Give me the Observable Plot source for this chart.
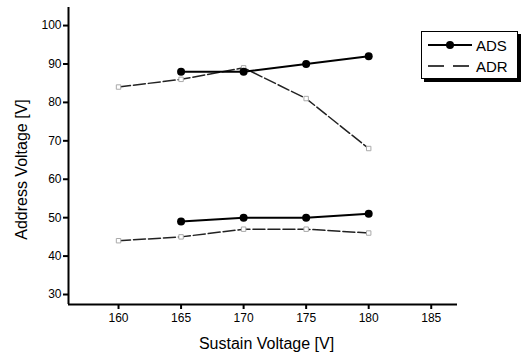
<!DOCTYPE html>
<html><head><meta charset="utf-8">
<script src="https://cdn.jsdelivr.net/npm/d3@7"></script>
<script src="https://cdn.jsdelivr.net/npm/@observablehq/plot@0.6"></script>
<style>
body{margin:0;background:#fff;font-family:"Liberation Sans",Arial,sans-serif;}
#wrap{position:relative;width:525px;height:356px;}
#legend{position:absolute;left:421px;top:31px;width:95px;height:46px;border:1px solid #000;background:#fff;box-shadow:3px 3px 0 #000;font-size:15px;}
#legend .row{position:absolute;left:5px;height:16px;display:flex;align-items:center;}
</style></head><body>
<div id="wrap"><div id="chart"></div>
<div id="legend">
 <div class="row" style="top:5px"><svg width="46" height="14"><line x1="1" y1="7" x2="45" y2="7" stroke="#000" stroke-width="2"/><circle cx="23" cy="7" r="4" fill="#000"/></svg><span style="margin-left:3px">ADS</span></div>
 <div class="row" style="top:26px"><svg width="46" height="14"><line x1="1" y1="7" x2="45" y2="7" stroke="#000" stroke-width="1.5" stroke-dasharray="16,9"/></svg><span style="margin-left:3px">ADR</span></div>
</div></div>
<script>
const sustain = [160, 165, 170, 175, 180];
const adsHigh = [null, 88, 88, 90, 92];
const adrHigh = [84, 86, 89, 81, 68];
const adsLow = [null, 49, 50, 50, 51];
const adrLow = [44, 45, 47, 47, 46];
const xTicks = [160, 165, 170, 175, 180, 185];
const yTicks = [30, 40, 50, 60, 70, 80, 90, 100];
const xLabel = "Sustain Voltage [V]";
const yLabel = "Address Voltage [V]";

function rows(vals, series, group){
  return sustain.map((x,i)=>({x, y: vals[i], series, group})).filter(d=>d.y!=null);
}
const ads = [...rows(adsHigh,"ADS","high"), ...rows(adsLow,"ADS","low")];
const adr = [...rows(adrHigh,"ADR","high"), ...rows(adrLow,"ADR","low")];

const chart = Plot.plot({
  width: 525, height: 356,
  marginLeft: 68, marginRight: 68, marginTop: 7, marginBottom: 52,
  style: {fontFamily: '"Liberation Sans", Arial, sans-serif', fontSize: "12px", color: "#000", background: "#fff"},
  x: {domain: [156, 187.1]},
  y: {domain: [27.4, 104.7]},
  marks: [
    Plot.axisX({ticks: xTicks, tickSize: 5, tickPadding: 4, fontSize: 12, label: null, strokeWidth: 2}),
    Plot.axisY({ticks: yTicks, tickSize: 5, tickPadding: 2, fontSize: 12, label: null, strokeWidth: 2}),
    Plot.ruleX([156], {strokeWidth: 2}),
    Plot.ruleY([27.4], {strokeWidth: 2}),
    Plot.text([xLabel], {text: d => d, frameAnchor: "bottom", lineAnchor: "middle", dy: 39, dx: 3.5, fontSize: 16}),
    Plot.text([yLabel], {text: d => d, frameAnchor: "left", textAnchor: "middle", rotate: -90, lineAnchor: "middle", dx: -47, dy: 13.5, fontSize: 16}),
    Plot.line(adr, {x: "x", y: "y", z: "group", stroke: "#222", strokeWidth: 1.5, strokeDasharray: "12,3"}),
    Plot.dot(adr, {x: "x", y: "y", symbol: "square", r: 2.5, stroke: "#aaa", fill: "#fff", strokeWidth: 1}),
    Plot.line(ads, {x: "x", y: "y", z: "group", stroke: "#000", strokeWidth: 2}),
    Plot.dot(ads, {x: "x", y: "y", r: 4, fill: "#000"})
  ]
});
document.getElementById("chart").appendChild(chart);
</script></body></html>
